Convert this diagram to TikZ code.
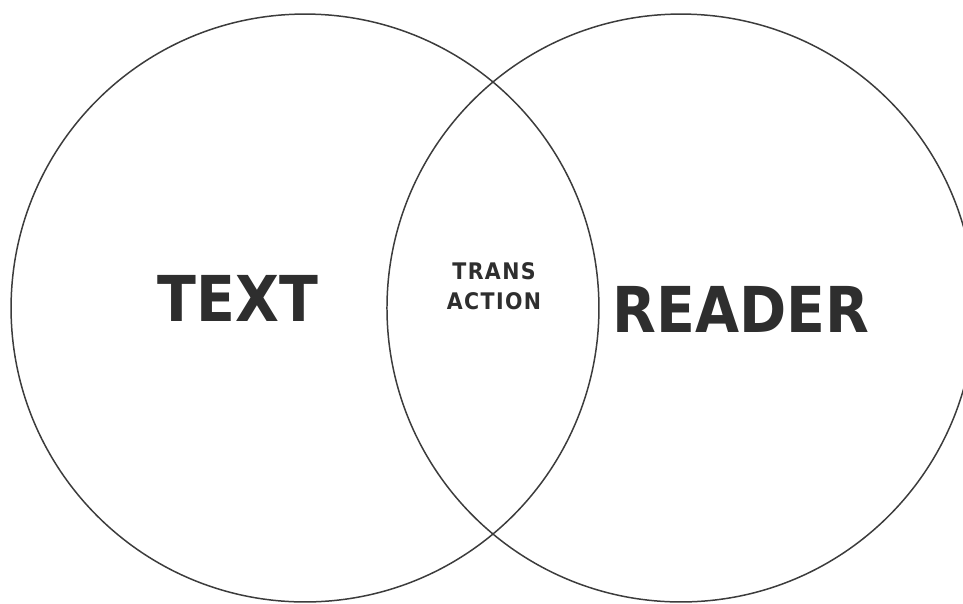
\documentclass[tikz,border=0pt]{standalone}
\usepackage{xcolor}
\usepackage{fontspec}
\usepackage{tikz}
\usetikzlibrary{positioning}
\newfontfamily\venncond{DejaVu Sans Condensed}
\newfontfamily\venncondwide{DejaVu Sans Condensed}[LetterSpace=6]
\definecolor{inkgray}{HTML}{2E2E2E}
\definecolor{linegray}{HTML}{3C3C3C}
\tikzset{
    ring/.style={
        circle, draw=linegray, line width=0.85pt,
        minimum size=11.76cm, inner sep=0pt, outer sep=0pt
    },
    biglabel/.style={font=\venncond\bfseries\fontsize{36}{36}\selectfont, text=inkgray, inner sep=0pt},
    smalllabel/.style={font=\venncondwide\bfseries\fontsize{13}{17}\selectfont, text=inkgray, align=center, inner sep=0pt}
}

\begin{document}
\begin{tikzpicture}[x=0.02cm, y=-0.02cm, node distance=7.52cm]
    \useasboundingbox (0,0) rectangle (963,603);
    \node [ring] (textring) at (305,308) {};
    \node [ring, right of=textring] (readerring) {};

    \node [biglabel] (text) at (238,298) {TEXT};
    \node [biglabel] (reader) at (741,309) {READER};
    \node [smalllabel] (trans) at (494,286) {TRANS\\ACTION};
\end{tikzpicture}
\end{document}
